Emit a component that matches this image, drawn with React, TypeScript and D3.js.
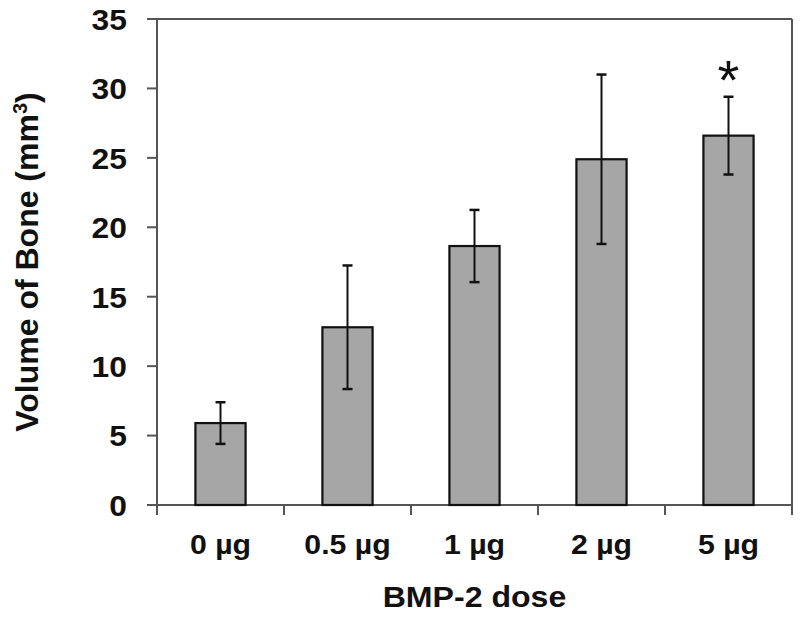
import React from "react";
import * as d3 from "d3";

const categories = ["0 µg", "0.5 µg", "1 µg", "2 µg", "5 µg"];
const means = [5.9, 12.8, 18.65, 24.9, 26.6];
const errors = [1.5, 4.45, 2.6, 6.1, 2.8];
const significant = [false, false, false, false, true];
const yTicks = [0, 5, 10, 15, 20, 25, 30, 35];

export default function App() {
  const W = 800, H = 618;
  const left = 157, right = 792, top = 19, bottom = 505;
  const x = d3.scaleBand<string>().domain(categories).range([left, right]).paddingInner(0).paddingOuter(0);
  const y = d3.scaleLinear().domain([0, 35]).range([bottom, top]);
  const bw = x.bandwidth() * 0.395;
  const axisColor = "#555";
  const font = "'Liberation Sans', Arial, sans-serif";
  const boundaries = categories.map((c) => x(c)!).concat([right]);

  return (
    <svg width={W} height={H} style={{ position: "absolute", left: 0, top: 0, background: "#fff" }}>
      <rect width={W} height={H} fill="#fff" />
      {/* frame top and right */}
      <line x1={left - 10} x2={right} y1={top} y2={top} stroke={axisColor} strokeWidth={2} />
      <line x1={right} x2={right} y1={top} y2={bottom + 10} stroke={axisColor} strokeWidth={2} />
      {/* y axis */}
      <line x1={left} x2={left} y1={top} y2={bottom + 9} stroke={axisColor} strokeWidth={2} />
      {yTicks.map((t) => (
        <g key={t}>
          <line x1={left - 10} x2={left} y1={y(t)} y2={y(t)} stroke={axisColor} strokeWidth={2} />
          <text transform={`translate(127,${y(t)}) scale(1.06,1)`} dy="0.36em" textAnchor="end" fontFamily={font} fontWeight="bold" fontSize={30} fill="#111">
            {t}
          </text>
        </g>
      ))}
      {/* x axis */}
      <line x1={left - 10} x2={right} y1={bottom} y2={bottom} stroke={axisColor} strokeWidth={2} />
      {boundaries.map((b, i) => (
        <line key={i} x1={b} x2={b} y1={bottom} y2={bottom + 10} stroke={axisColor} strokeWidth={2} />
      ))}
      {/* bars */}
      {categories.map((c, i) => {
        const cx = x(c)! + x.bandwidth() / 2;
        const hi = y(means[i] + errors[i]);
        const lo = y(means[i] - errors[i]);
        return (
          <g key={c}>
            <rect x={cx - bw / 2} y={y(means[i])} width={bw} height={y(0) - y(means[i])} fill="#a6a6a6" stroke="#111" strokeWidth={2.2} />
            <line x1={cx} x2={cx} y1={hi} y2={lo} stroke="#111" strokeWidth={2} />
            <line x1={cx - 5} x2={cx + 5} y1={hi} y2={hi} stroke="#111" strokeWidth={2.5} />
            <line x1={cx - 5} x2={cx + 5} y1={lo} y2={lo} stroke="#111" strokeWidth={2.5} />
            {significant[i] && (
              <text x={cx} y={hi + 2} textAnchor="middle" fontFamily={font} fontSize={56} fill="#111">
                *
              </text>
            )}
            <text transform={`translate(${cx},554) scale(1.08,1)`} textAnchor="middle" fontFamily={font} fontWeight="bold" fontSize={28} fill="#111">
              {c}
            </text>
          </g>
        );
      })}
      <text transform={`translate(${(left + right) / 2},607) scale(1.07,1)`} textAnchor="middle" fontFamily={font} fontWeight="bold" fontSize={30} fill="#111">
        BMP-2 dose
      </text>
      <text transform={`translate(38,262) rotate(-90)`} textAnchor="middle" fontFamily={font} fontWeight="bold" fontSize={32} fill="#111">
        Volume of Bone (mm<tspan baselineShift="super" fontSize={20}>3</tspan>)
      </text>
    </svg>
  );
}
